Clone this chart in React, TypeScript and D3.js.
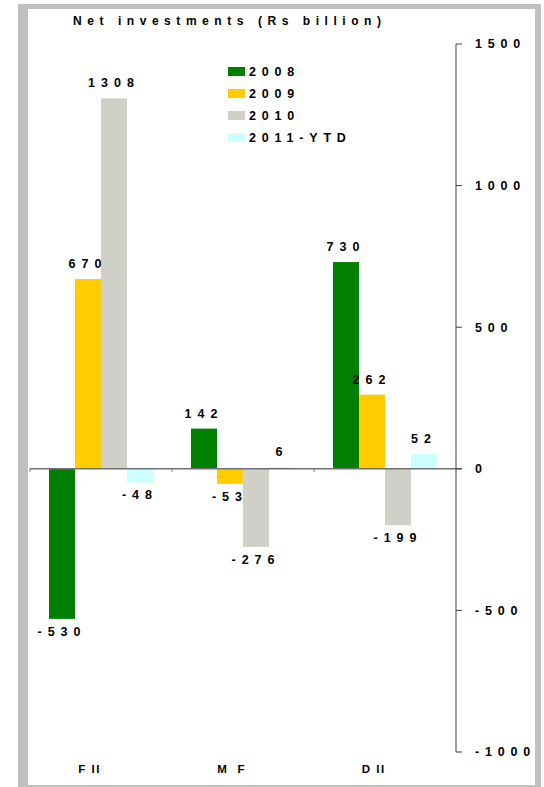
import React from "react";
import * as d3 from "d3";

const categories = ["FII", "MF", "DII"];
const categoryLabels = ["F II", "M  F", "D II"];
const seriesNames = ["2008", "2009", "2010", "2011-YTD"];
const seriesColors = ["#008000", "#FFCC00", "#D0D0C8", "#CCFFFF"];
const values2008 = [-530, 142, 730];
const values2009 = [670, -53, 262];
const values2010 = [1308, -276, -199];
const values2011 = [-48, 6, 52];
const yTicks = [1500, 1000, 500, 0, -500, -1000];
const title = "Net investments (Rs billion)";

const seriesValues = [values2008, values2009, values2010, values2011];

const FONT = "'Liberation Sans', Arial, Helvetica, sans-serif";

export default function App() {
  const W = 544;
  const H = 787;
  const x = d3.scaleBand<string>().domain(categories).range([30, 456]).padding(0);
  const xs = d3.scaleBand<string>().domain(seriesNames).range([19, 123]).padding(0);
  const y = d3.scaleLinear().domain([-1000, 1500]).range([752, 44]);
  const y0 = y(0);

  const bars: any[] = [];
  categories.forEach((c, ci) => {
    seriesNames.forEach((s, si) => {
      const v = seriesValues[si][ci];
      const bx = (x(c) as number) + (xs(s) as number);
      const top = Math.min(y(v), y0);
      const h = Math.abs(y(v) - y0);
      bars.push({ key: c + s, bx, top, h, v, color: seriesColors[si], bw: xs.bandwidth() });
    });
  });

  return (
    <svg
      width={W}
      height={H}
      style={{ position: "absolute", left: 0, top: 0, display: "block" }}
      fontFamily={FONT}
    >
      <rect x={0} y={0} width={W} height={H} fill="#ffffff" />
      <rect x={18} y={4} width={523} height={800} fill="#C0C0C0" />
      <rect x={28} y={9} width={507} height={776} fill="#ffffff" />

      <text x={73} y={25} fontSize={12} fontWeight="bold" textLength={308} lengthAdjust="spacing" fill="#000">
        {title}
      </text>

      {bars.map((b) => (
        <rect key={b.key} x={b.bx} y={b.top} width={b.bw} height={Math.max(b.h, 0.5)} fill={b.color} />
      ))}

      {/* zero line */}
      <line x1={30} x2={462} y1={y0} y2={y0} stroke="#707070" strokeWidth={1.5} />
      {categories.map((c) => (
        <line key={"sep" + c} x1={x(c) as number} x2={x(c) as number} y1={y0} y2={y0 + 3} stroke="#707070" strokeWidth={1} />
      ))}

      {/* value labels */}
      {bars.map((b) => (
        <text
          key={"l" + b.key}
          x={b.bx + b.bw / 2}
          y={b.v >= 0 ? y(b.v) - 11 : y(b.v) + 17}
          textAnchor="middle"
          fontSize={12.5}
          fontWeight="bold"
          letterSpacing={6}
          fill="#000"
        >
          {String(b.v)}
        </text>
      ))}

      {/* right axis */}
      <line x1={456} x2={456} y1={y(1500)} y2={y(-1000)} stroke="#404040" strokeWidth={1} />
      {yTicks.map((t) => (
        <g key={"t" + t}>
          <line x1={456} x2={462} y1={y(t)} y2={y(t)} stroke="#404040" strokeWidth={1} />
          <text x={475} y={y(t)} dy="0.35em" fontSize={12.5} fontWeight="bold" letterSpacing={5.8} fill="#000">
            {String(t)}
          </text>
        </g>
      ))}

      {/* category labels */}
      {categories.map((c, i) => (
        <text
          key={"c" + c}
          x={(x(c) as number) + x.bandwidth() * 0.42}
          y={773}
          textAnchor="middle"
          fontSize={11.5}
          fontWeight="bold"
          letterSpacing={1.5}
          fill="#000"
          style={{ whiteSpace: "pre" }}
        >
          {categoryLabels[i]}
        </text>
      ))}

      {/* legend */}
      {seriesNames.map((s, i) => (
        <g key={"lg" + s}>
          <rect x={228} y={67 + i * 22} width={17} height={9} fill={seriesColors[i]} />
          <text x={249} y={71.5 + i * 22} dy="0.35em" fontSize={12.5} fontWeight="bold" letterSpacing={5.8} fill="#000">
            {s}
          </text>
        </g>
      ))}
    </svg>
  );
}
